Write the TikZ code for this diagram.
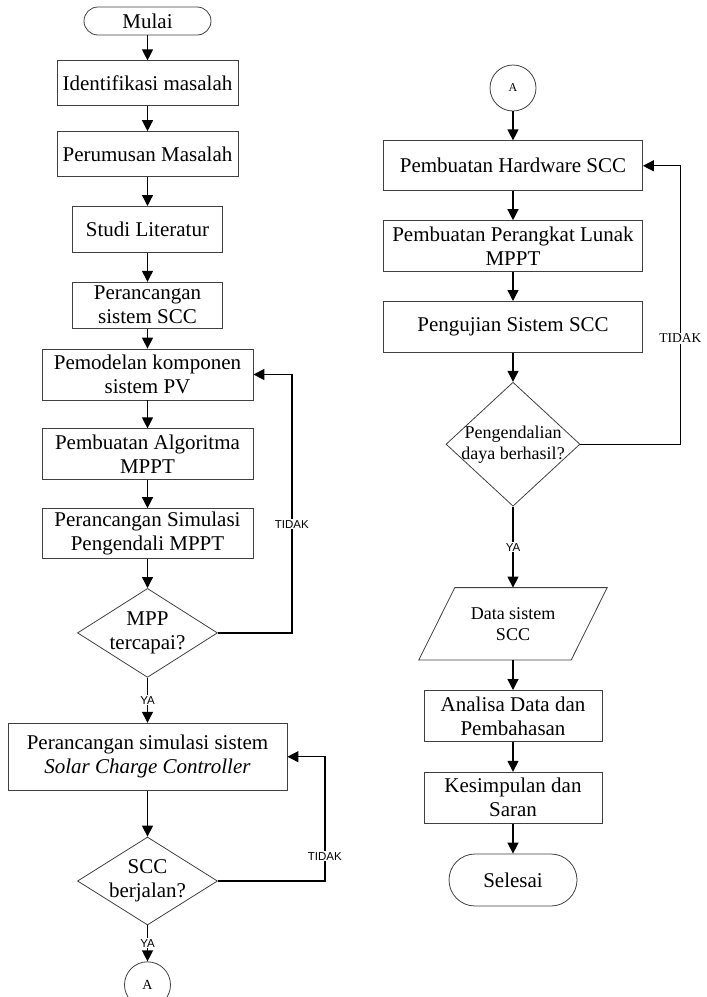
\documentclass[tikz,border=0pt]{standalone}
\usepackage{fontspec}
\setmainfont{Liberation Serif}
\setsansfont{Liberation Sans}
\usetikzlibrary{positioning,arrows.meta,shapes.geometric}

\begin{document}
\begin{tikzpicture}[
  x=1pt,y=-1pt,
  font=\fontsize{21}{24}\selectfont,
  box/.style={rectangle,draw=black!75,line width=0.8pt,minimum height=50pt,align=center,inner sep=2pt},
  term/.style={box,rounded corners=14pt,minimum height=28pt},
  decision/.style={diamond,draw=black!75,line width=0.8pt,inner sep=0pt},
  dtext/.style={align=center,inner sep=0pt},
  datain/.style={rectangle,align=center,inner sep=0pt},
  outline/.style={draw=black!75,line width=0.8pt},
  conn/.style={circle,draw=black!75,line width=0.8pt,minimum size=46pt,inner sep=0pt},
  arr/.style={-{Triangle[length=11pt,width=11pt]},line width=1.3pt},
  lbl/.style={font=\sffamily\fontsize{11.5}{12}\selectfont,fill=white,inner sep=1pt},
  lblserif/.style={font=\fontsize{13.5}{14}\selectfont,fill=white,inner sep=1pt},
]
\useasboundingbox (0,0) rectangle (707,997);

% ---------- left column: up to simulation of the SCC ----------
\node[term,minimum width=127pt] (mulai) at (147.5,21) {Mulai};
\node[box,minimum width=181pt,minimum height=45pt,below=25pt of mulai] (identifikasi) {Identifikasi masalah};
\node[box,minimum width=181pt,minimum height=45pt,below=25pt of identifikasi] (perumusan) {Perumusan Masalah};
\node[box,minimum width=150pt,minimum height=46pt,below=29pt of perumusan] (studi) {Studi Literatur};
\node[box,minimum width=150pt,minimum height=46pt,below=29pt of studi] (rancangscc) {Perancangan\\sistem SCC};
\node[box,minimum width=211pt,minimum height=51pt,below=20pt of rancangscc] (pemodelan) {Pemodelan komponen\\sistem PV};
\node[box,minimum width=211pt,minimum height=51pt,below=28pt of pemodelan] (algoritma) {Pembuatan Algoritma\\MPPT};
\node[box,minimum width=211pt,minimum height=50pt,below=28pt of algoritma] (simmppt) {Perancangan Simulasi\\Pengendali MPPT};
\node[decision,minimum width=140pt,minimum height=89pt,below=29pt of simmppt] (mpp) {};
\node[dtext] (mpptext) at (mpp) {MPP\\tercapai?};
\node[box,minimum width=279pt,minimum height=67pt,below=45pt of mpp] (simscc) {Perancangan simulasi sistem\\\textit{Solar Charge Controller}};
\node[decision,minimum width=140pt,minimum height=88pt,below=46pt of simscc] (berjalan) {};
\node[dtext] (berjalantext) at (berjalan) {SCC\\berjalan?};
\node[conn,font=\fontsize{14}{14}\selectfont,below=36pt of berjalan] (konAout) {A};

\draw[arr] (mulai) -- (identifikasi);
\draw[arr] (identifikasi) -- (perumusan);
\draw[arr] (perumusan) -- (studi);
\draw[arr] (studi) -- (rancangscc);
\draw[arr] (rancangscc) -- (pemodelan);
\draw[arr] (pemodelan) -- (algoritma);
\draw[arr] (algoritma) -- (simmppt);
\draw[arr] (simmppt) -- (mpp.north);
\draw[arr] (mpp.south) -- node[lbl] {YA} (simscc);
\draw[arr] (simscc) -- (berjalan.north);
\draw[arr] (berjalan.south) -- node[lbl] {YA} (konAout);
\draw[arr] (mpp.east) -- ++(74,0) |- node[lbl,pos=0.21] {TIDAK} (pemodelan.east);
\draw[arr] (berjalan.east) -- ++(107,0) |- node[lbl,pos=0.1] {TIDAK} (simscc.east);

% ---------- right column: hardware to conclusion ----------
\node[conn,font=\fontsize{12}{12}\selectfont] (konAin) at (513,88) {A};
\node[box,minimum width=259pt,minimum height=50pt,below=29pt of konAin] (hardware) {Pembuatan Hardware SCC};
\node[box,minimum width=259pt,minimum height=51pt,below=29pt of hardware] (lunak) {Pembuatan Perangkat Lunak\\MPPT};
\node[box,minimum width=259pt,minimum height=51pt,below=29pt of lunak] (pengujian) {Pengujian Sistem SCC};
\node[decision,minimum width=134pt,minimum height=124pt,below=29pt of pengujian] (kendali) {};
\node[dtext,font=\fontsize{18}{21}\selectfont] (kendalitext) at (kendali) {Pengendalian\\daya berhasil?};
\node[datain,minimum width=152pt,minimum height=72pt,font=\fontsize{18}{21}\selectfont,below=81pt of kendali] (data) {Data sistem\\SCC};
\draw[outline] ([xshift=18pt]data.north west) -- ([xshift=18pt]data.north east)
  -- ([xshift=-18pt]data.south east) -- ([xshift=-18pt]data.south west) -- cycle;
\node[box,minimum width=178pt,minimum height=51pt,below=30pt of data] (analisa) {Analisa Data dan\\Pembahasan};
\node[box,minimum width=178pt,minimum height=51pt,below=30pt of analisa] (simpulan) {Kesimpulan dan\\Saran};
\node[term,minimum width=128pt,minimum height=52pt,rounded corners=26pt,below=30pt of simpulan] (selesai) {Selesai};

\draw[arr] (konAin) -- (hardware);
\draw[arr] (hardware) -- (lunak);
\draw[arr] (lunak) -- (pengujian);
\draw[arr] (pengujian) -- (kendali.north);
\draw[arr] (kendali.south) -- node[lbl] {YA} (data);
\draw[arr] (data) -- (analisa);
\draw[arr] (analisa) -- (simpulan);
\draw[arr] (simpulan) -- (selesai);
\draw[arr] (kendali.east) -- ++(100,0) |- node[lblserif,pos=0.19] {TIDAK} (hardware.east);
\end{tikzpicture}
\end{document}
